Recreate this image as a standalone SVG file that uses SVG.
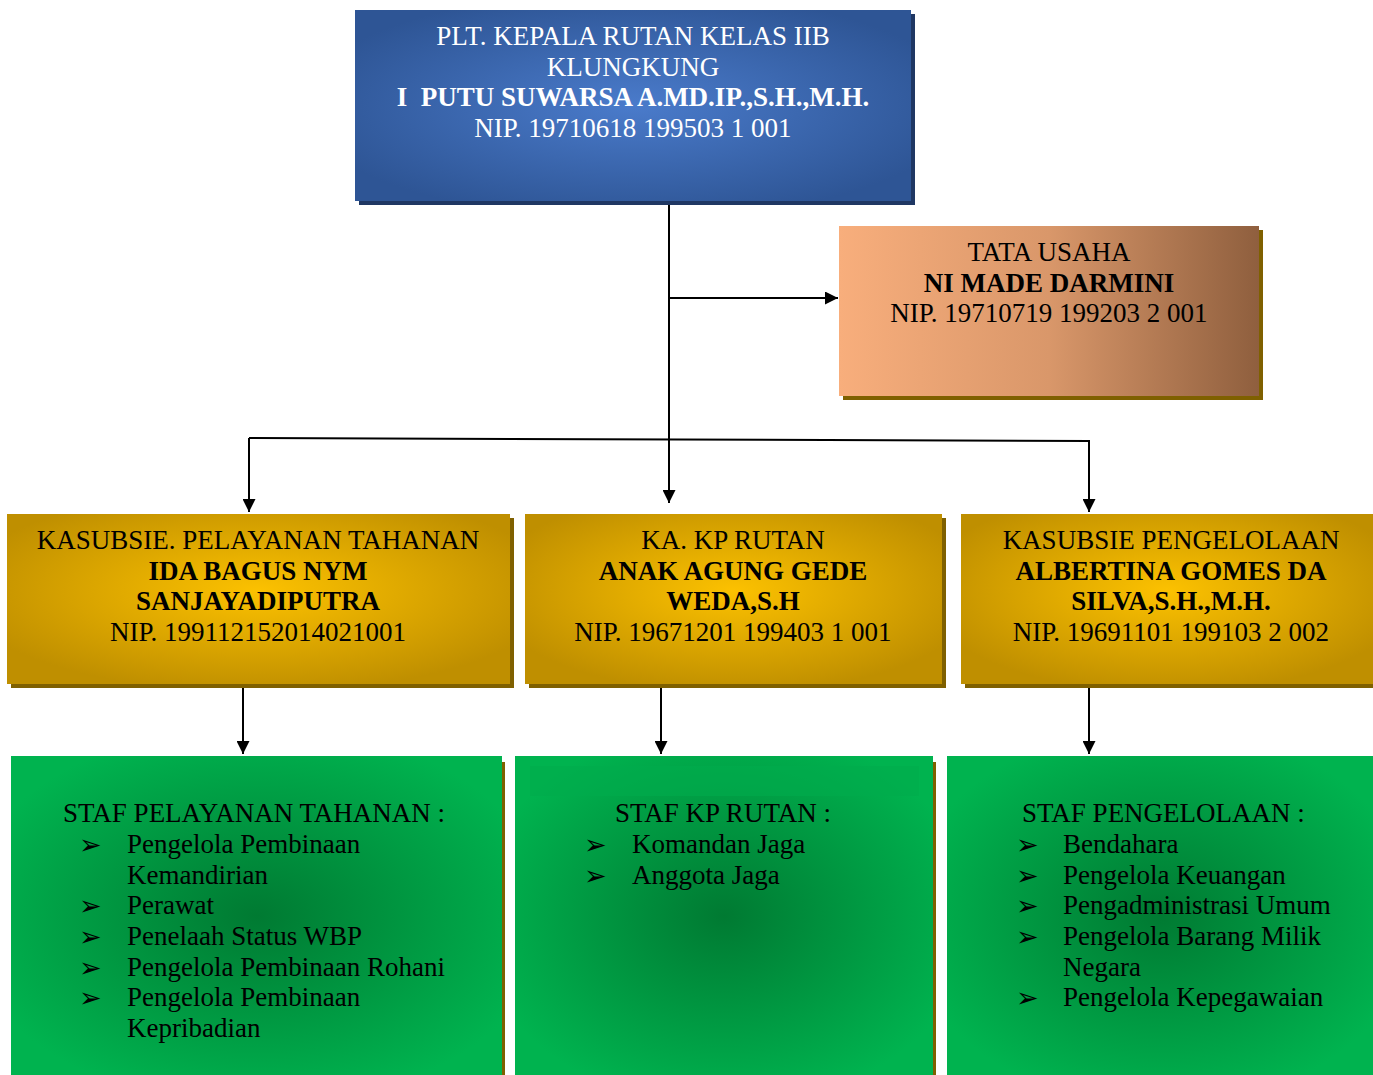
<svg xmlns="http://www.w3.org/2000/svg" width="1373" height="1075" viewBox="0 0 1373 1075">
<defs>
<radialGradient id="gBlue" cx="0.5" cy="0.5" r="0.6">
<stop offset="0" stop-color="#4a7bcb"/>
<stop offset="1" stop-color="#2e5595"/>
</radialGradient>
<linearGradient id="gOrange" x1="0" y1="0" x2="1" y2="0">
<stop offset="0" stop-color="#f8ae7c"/>
<stop offset="0.5" stop-color="#d9976a"/>
<stop offset="1" stop-color="#8f5f3e"/>
</linearGradient>
<radialGradient id="gGold" cx="0.5" cy="0.45" r="0.6">
<stop offset="0" stop-color="#fcc100"/>
<stop offset="1" stop-color="#bf8f00"/>
</radialGradient>
<radialGradient id="gGreen" cx="0.5" cy="0.5" r="0.6">
<stop offset="0" stop-color="#007a32"/>
<stop offset="1" stop-color="#00b34f"/>
</radialGradient>
<marker id="arr" viewBox="0 0 10 10" refX="10" refY="5" markerWidth="7" markerHeight="6.5" orient="auto" markerUnits="strokeWidth">
<path d="M0,0 L10,5 L0,10 z" fill="#000"/>
</marker>
</defs>
<style>
text{font-family:"Liberation Serif","Times New Roman",serif;font-size:27px;fill:#000;white-space:pre}
.c{text-anchor:middle}
.b{font-weight:bold}
.w{fill:#fff}
.bul{font-family:"DejaVu Sans",sans-serif;font-size:27px}
.ln{stroke:#000;stroke-width:2;fill:none}
</style>
<g id="connectors">
<path class="ln" d="M669,201 V503" marker-end="url(#arr)"/>
<path class="ln" d="M669,298 H838" marker-end="url(#arr)"/>
<path class="ln" d="M249,438 L1089,441 V512" marker-end="url(#arr)"/>
<path class="ln" d="M249,438 V512" marker-end="url(#arr)"/>
<path class="ln" d="M243,683 V754" marker-end="url(#arr)"/>
<path class="ln" d="M661,683 V754" marker-end="url(#arr)"/>
<path class="ln" d="M1089,683 V754" marker-end="url(#arr)"/>
</g>
<g id="kepala">
<rect x="359" y="14" width="556" height="191" fill="#1f3763"/>
<rect x="355" y="10" width="556" height="191" fill="url(#gBlue)"/>
<text class="c w" x="633" y="45">PLT. KEPALA RUTAN KELAS IIB</text>
<text class="c w" x="633" y="76">KLUNGKUNG</text>
<text class="c w b" x="633" y="106" xml:space="preserve">I  PUTU SUWARSA A.MD.IP.,S.H.,M.H.</text>
<text class="c w" x="633" y="137">NIP. 19710618 199503 1 001</text>
</g>
<g id="tatausaha">
<rect x="843" y="230" width="420" height="170" fill="#7f6000"/>
<rect x="839" y="226" width="420" height="170" fill="url(#gOrange)"/>
<text class="c" x="1049" y="261">TATA USAHA</text>
<text class="c b" x="1049" y="292">NI MADE DARMINI</text>
<text class="c" x="1049" y="322">NIP. 19710719 199203 2 001</text>
</g>
<g id="kasubsie-pelayanan">
<rect x="11" y="518" width="503" height="170" fill="#7f6000"/>
<rect x="7" y="514" width="503" height="170" fill="url(#gGold)"/>
<text class="c" x="258" y="549">KASUBSIE. PELAYANAN TAHANAN</text>
<text class="c b" x="258" y="580">IDA BAGUS NYM</text>
<text class="c b" x="258" y="610">SANJAYADIPUTRA</text>
<text class="c" x="258" y="641">NIP. 199112152014021001</text>
</g>
<g id="ka-kp-rutan">
<rect x="529" y="518" width="417" height="170" fill="#7f6000"/>
<rect x="525" y="514" width="417" height="170" fill="url(#gGold)"/>
<text class="c" x="733" y="549">KA. KP RUTAN</text>
<text class="c b" x="733" y="580">ANAK AGUNG GEDE</text>
<text class="c b" x="733" y="610">WEDA,S.H</text>
<text class="c" x="733" y="641">NIP. 19671201 199403 1 001</text>
</g>
<g id="kasubsie-pengelolaan">
<rect x="965" y="518" width="412" height="170" fill="#7f6000"/>
<rect x="961" y="514" width="412" height="170" fill="url(#gGold)"/>
<text class="c" x="1171" y="549">KASUBSIE PENGELOLAAN</text>
<text class="c b" x="1171" y="580">ALBERTINA GOMES DA</text>
<text class="c b" x="1171" y="610">SILVA,S.H.,M.H.</text>
<text class="c" x="1171" y="641">NIP. 19691101 199103 2 002</text>
</g>
<g id="staf-pelayanan">
<rect x="14" y="762" width="491" height="320" fill="#7f6000"/>
<rect x="11" y="756" width="491" height="320" fill="url(#gGreen)"/>
<text x="63" y="822">STAF PELAYANAN TAHANAN :</text>
<text class="bul" x="79" y="854">➢</text>
<text x="127" y="853">Pengelola Pembinaan</text>
<text x="127" y="884">Kemandirian</text>
<text class="bul" x="79" y="915">➢</text>
<text x="127" y="914">Perawat</text>
<text class="bul" x="79" y="946">➢</text>
<text x="127" y="945">Penelaah Status WBP</text>
<text class="bul" x="79" y="977">➢</text>
<text x="127" y="976">Pengelola Pembinaan Rohani</text>
<text class="bul" x="79" y="1007">➢</text>
<text x="127" y="1006">Pengelola Pembinaan</text>
<text x="127" y="1037">Kepribadian</text>
</g>
<g id="staf-kp">
<rect x="518" y="762" width="418" height="320" fill="#7f6000"/>
<rect x="515" y="756" width="418" height="320" fill="url(#gGreen)"/>
<rect x="530" y="766" width="389" height="30" fill="#00ac4c" opacity="0.6"/>
<text x="615" y="822">STAF KP RUTAN :</text>
<text class="bul" x="584" y="854">➢</text>
<text x="632" y="853">Komandan Jaga</text>
<text class="bul" x="584" y="885">➢</text>
<text x="632" y="884">Anggota Jaga</text>
</g>
<g id="staf-pengelolaan">
<rect x="947" y="756" width="426" height="320" fill="url(#gGreen)"/>
<text x="1022" y="822">STAF PENGELOLAAN :</text>
<text class="bul" x="1016" y="854">➢</text>
<text x="1063" y="853">Bendahara</text>
<text class="bul" x="1016" y="885">➢</text>
<text x="1063" y="884">Pengelola Keuangan</text>
<text class="bul" x="1016" y="915">➢</text>
<text x="1063" y="914">Pengadministrasi Umum</text>
<text class="bul" x="1016" y="946">➢</text>
<text x="1063" y="945">Pengelola Barang Milik</text>
<text x="1063" y="976">Negara</text>
<text class="bul" x="1016" y="1007">➢</text>
<text x="1063" y="1006">Pengelola Kepegawaian</text>
</g>
</svg>
